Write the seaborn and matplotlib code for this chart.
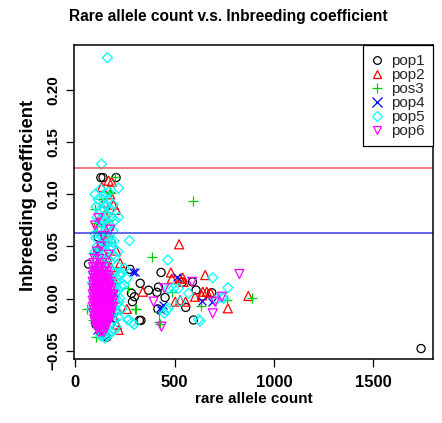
import matplotlib
matplotlib.use("Agg")
import matplotlib.pyplot as plt
from matplotlib.lines import Line2D
import seaborn as sns

# ---- data: (rare allele count, inbreeding coefficient) per population ----
pop1_x = [129, 140, 206, 114, 67, 151, 160, 100, 120, 110, 130, 95, 140, 105,
          276, 327, 369, 432, 419, 411, 452, 298, 288, 323, 331, 416, 556, 538,
          590, 608, 687, 595, 283, 1740]
pop1_y = [0.116, 0.116, 0.116, 0.059, 0.033, -0.035, -0.037, 0.020, -0.020, 0.000,
          0.050, 0.010, -0.030, -0.025,
          0.028, 0.0146, 0.008, 0.025, 0.011, 0.006, 0.001, 0.0017, -0.003, -0.021,
          -0.021, -0.010, -0.0085, 0.0155, 0.016, 0.0081, 0.0056, -0.0206, 0.005, -0.048]

pop2_x = [134, 168, 184, 146, 193, 206, 150, 170, 114, 180, 206, 226, 120, 160,
          190, 200, 210, 210, 218, 195, 180, 155, 130, 175, 185,
          523, 481, 486, 528, 545, 541, 654, 662, 637, 603, 682, 642, 768, 871,
          555, 503, 528, 340, 260]
pop2_y = [0.107, 0.113, 0.112, 0.092, 0.090, 0.085, 0.080, 0.070, 0.073, 0.058,
          0.046, 0.034, 0.050, 0.040, 0.020, 0.000, -0.010, -0.025, -0.030, -0.018,
          0.030, 0.055, 0.075, 0.100, -0.005,
          0.052, 0.025, 0.019, 0.019, 0.016, 0.020, 0.0225, 0.0065, 0.003, 0.0017,
          0.005, 0.0065, -0.0094, 0.0024, -0.003, -0.003, -0.0015, 0.0065, -0.010]

pos3_x = [201, 179, 176, 595, 101, 104, 159, 92, 385, 268, 307, 302, 60, 427,
          422, 107, 632, 888, 486, 422, 92, 763, 140, 120, 170, 150, 190, 200,
          95, 110, 130]
pos3_y = [0.117, 0.101, 0.102, 0.094, 0.0855, 0.072, 0.083, 0.044, 0.040, 0.0098,
          -0.0098, -0.010, -0.010, -0.024, -0.023, -0.037, -0.0072, 0.0008, 0.006,
          -0.0127, -0.021, -0.0014, 0.060, 0.050, 0.075, 0.030, -0.015, 0.015,
          0.000, 0.065, 0.095]

pop4_x = [302, 293, 511, 431, 427, 637, 690, 106, 95, 160, 180, 120, 110, 200, 440]
pop4_y = [0.0257, 0.0257, 0.021, -0.011, -0.0094, -0.0024, -0.003, 0.045, -0.020,
          0.010, -0.020, 0.030, -0.030, 0.005, -0.006]

pop5_x = [162, 132, 218, 151, 168, 218, 273, 140, 155, 125, 160, 180, 110, 135,
          175, 120, 150, 190, 105, 140, 165, 130, 185, 115, 155, 200, 135, 210,
          175, 248, 225, 205, 230, 215, 246, 260, 200, 220, 210, 195, 205, 180,
          160, 140, 120, 100, 95, 100, 190, 178, 185,
          100, 115, 128, 145, 165, 190, 200, 105, 120, 145, 160, 185, 100, 130,
          160, 178, 110, 145, 170, 195, 100, 125, 165, 190, 105, 145, 215,
          200, 210, 205, 212, 215, 200, 190, 195, 225, 230, 235, 170, 150, 130,
          85, 86, 90,
          466, 692, 768, 469, 494, 519, 570, 528, 469, 461, 449, 265, 297, 268,
          285, 620, 628, 746, 712, 738]
pop5_y = [0.231, 0.129, 0.106, 0.101, 0.102, 0.078, 0.0555, 0.095, 0.090, 0.085,
          0.080, 0.085, 0.078, 0.072, 0.070, 0.065, 0.065, 0.065, 0.058, 0.055,
          0.057, 0.048, 0.050, 0.042, 0.045, 0.040, 0.038, 0.032, 0.035, 0.029,
          0.022, 0.020, 0.012, 0.008, 0.013, 0.019, 0.002, -0.003, -0.012, -0.020,
          -0.027, -0.032, -0.036, -0.034, -0.028, -0.015, 0.005, 0.030, 0.025,
          0.010, -0.008,
          0.100, 0.095, 0.105, 0.085, 0.095, 0.090, 0.075, 0.088, 0.075, 0.075,
          0.070, 0.078, 0.062, 0.060, 0.060, 0.055, 0.050, 0.050, 0.048, 0.055,
          0.045, 0.040, 0.038, 0.042, 0.035, 0.035, 0.045,
          0.025, 0.015, 0.005, -0.005, -0.018, -0.030, -0.010, 0.012, 0.000,
          0.025, -0.010, -0.035, -0.038, -0.036, -0.010, 0.015, 0.025,
          0.037, 0.020, 0.0104, 0.0098, 0.0098, 0.0098, 0.005, -0.003, -0.0094,
          -0.011, -0.014, -0.0206, -0.0248, -0.020, -0.023, -0.020, -0.0216,
          0.0002, -0.0008, 0.001]

# pop6: the dense core is listed row by row (one inbreeding value per row)
pop6_rows = [
    (0.077, [117]), (0.070, [100]), (0.066, [176]), (0.060, [140]),
    (0.050, [130]), (0.045, [110]), (0.042, [168]),
    (0.038, [98, 120]),
    (0.034, [92, 108, 135]),
    (0.030, [90, 102, 118, 132, 150]),
    (0.026, [93, 106, 120, 134, 148, 160]),
    (0.022, [90, 100, 113, 127, 140, 155, 166]),
    (0.019, [96, 109, 122, 136, 150, 163]),
    (0.016, [88, 98, 110, 123, 137, 150, 165, 176]),
    (0.013, [94, 106, 119, 133, 147, 160, 172]),
    (0.010, [90, 102, 115, 128, 142, 156, 170, 182]),
    (0.007, [95, 107, 120, 134, 148, 162, 176]),
    (0.004, [88, 99, 111, 124, 138, 152, 166, 180, 190]),
    (0.001, [94, 106, 119, 132, 146, 160, 173, 186]),
    (-0.002, [88, 98, 110, 123, 136, 150, 164, 178, 192]),
    (-0.005, [93, 105, 118, 131, 145, 159, 172, 185]),
    (-0.008, [88, 99, 111, 124, 138, 152, 166, 180, 190]),
    (-0.011, [94, 107, 120, 133, 147, 161, 175]),
    (-0.014, [91, 103, 115, 128, 142, 156, 170, 182]),
    (-0.017, [97, 110, 123, 136, 150, 164, 176]),
    (-0.020, [95, 107, 120, 133, 147, 161, 172]),
    (-0.023, [101, 114, 127, 140, 154, 167]),
    (-0.026, [104, 117, 130, 144, 158]),
    (-0.029, [110, 124, 138, 152]),
    (-0.032, [118, 132, 146]),
    (0.0235, [826]), (0.0017, [738]), (-0.003, [704, 394]), (-0.0142, [692]),
    (-0.027, [434]), (0.016, [588]), (0.0098, [449]),
]
pop6_x = [x for _, xs in pop6_rows for x in xs]
pop6_y = [y for y, xs in pop6_rows for _ in xs]

labels = ["pop1", "pop2", "pos3", "pop4", "pop5", "pop6"]
colors = ["black", "#FF0000", "#00CD00", "#0000FF", "#00FFFF", "#FF00FF"]
markers = ["o", "^", "+", "x", "D", "v"]
sizes = [34, 42, 58, 32, 26, 42]
hline_values = [0.125, 0.0625]

# ---- style ----
sns.set_theme(style="ticks")
plt.rcParams["font.family"] = ["Liberation Sans", "DejaVu Sans"]

fig = plt.figure(figsize=(4.42, 4.23), dpi=100)
ax = fig.add_axes([74 / 442, 1 - 359.3 / 423, (433 - 74) / 442, (359.3 - 45.5) / 423])

series = [(pop1_x, pop1_y), (pop2_x, pop2_y), (pos3_x, pos3_y),
          (pop4_x, pop4_y), (pop5_x, pop5_y), (pop6_x, pop6_y)]
for (xs, ys), col, mk, sz in zip(series, colors, markers, sizes):
    if mk in ("+", "x"):
        sns.scatterplot(x=xs, y=ys, marker=mk, color=col, s=sz, linewidth=0.9, ax=ax)
    else:
        sns.scatterplot(x=xs, y=ys, marker=mk, color=col, facecolor="none",
                        edgecolor=col, s=sz, linewidth=0.9, ax=ax)

ax.axhline(hline_values[0], color="#F05a5a", lw=1.1)
ax.axhline(hline_values[1], color="#3a3ae8", lw=1.1)

ax.set_xlim(-6, 1800)
ax.set_ylim(-0.0583, 0.2427)
ax.set_xticks([0, 500, 1000, 1500])
ax.set_yticks([-0.05, 0.0, 0.05, 0.10, 0.15, 0.20])
ax.set_yticklabels(["\u22120.05", "0.00", "0.05", "0.10", "0.15", "0.20"],
                   rotation=90, va="center")
for s in ax.spines.values():
    s.set_visible(True)
    s.set_color("black")
    s.set_linewidth(1.1)
ax.tick_params(axis="both", length=6, width=0.9, color="black",
               labelcolor="black")
ax.tick_params(axis="x", pad=5, labelsize=12)
ax.tick_params(axis="y", pad=4, labelsize=11)
for t in ax.get_xticklabels() + ax.get_yticklabels():
    t.set_fontweight("bold")

ax.set_xlabel("rare allele count", fontsize=11, fontweight="bold", labelpad=2,
              color="black")
ax.set_ylabel("Inbreeding coefficient", fontsize=13.2, fontweight="bold",
              color="black")
ax.yaxis.set_label_coords(-37 / 359, (359.3 - 195) / 313.8)
fig.text(228 / 442, 1 - 16 / 423, "Rare allele count v.s. Inbreeding coefficient",
         ha="center", va="center", fontsize=11.2, fontweight="bold", color="black")

handles = []
for lab, col, mk in zip(labels, colors, markers):
    if mk in ("+", "x"):
        h = Line2D([], [], ls="none", marker=mk, color=col, ms=6.5, mew=0.9)
    else:
        h = Line2D([], [], ls="none", marker=mk, mfc="none", mec=col, ms=5.5, mew=0.9)
    handles.append(h)
leg = ax.legend(handles, labels, loc="upper right", bbox_to_anchor=(1, 1),
                borderaxespad=0, fontsize=11, frameon=True, fancybox=False,
                framealpha=1, edgecolor="black", labelspacing=0.0,
                handlelength=0.8, handletextpad=0.5, borderpad=0.55)
leg.get_frame().set_linewidth(0.9)

fig.savefig("out.png", dpi=100)
